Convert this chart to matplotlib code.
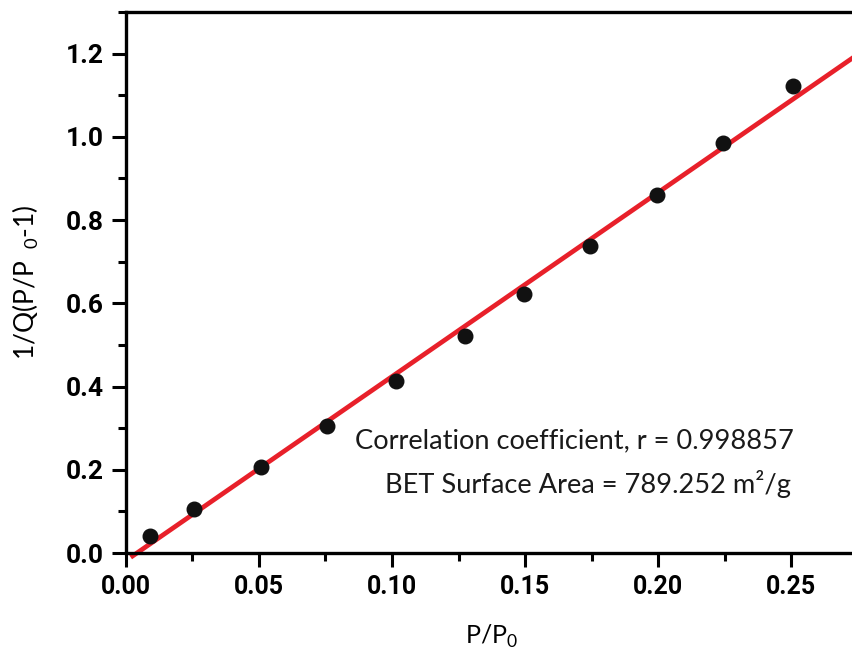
import numpy as np
import matplotlib
matplotlib.use('Agg')
import matplotlib.pyplot as plt
from matplotlib.ticker import MultipleLocator

# data
p_rel = [0.0090, 0.0256, 0.0508, 0.0756, 0.1015, 0.1274, 0.1496, 0.1744, 0.1996, 0.2244, 0.2508]
bet_y = [0.041, 0.106, 0.207, 0.305, 0.414, 0.522, 0.623, 0.738, 0.861, 0.986, 1.123]

# linear fit shown in the figure
fit_slope = 4.42
fit_intercept = -0.018
fit_range = [0.0025, 0.285]

xticks = [0.00, 0.05, 0.10, 0.15, 0.20, 0.25]
yticks = [0.0, 0.2, 0.4, 0.6, 0.8, 1.0, 1.2]

plt.rcParams['font.family'] = ['Lato', 'DejaVu Sans']
plt.rcParams['mathtext.fontset'] = 'custom'
plt.rcParams['mathtext.rm'] = 'Lato'

fig = plt.figure(figsize=(8.53, 6.6), dpi=100)
ax = fig.add_axes([0.1477, 0.162, 0.8576, 0.820])

# fit line
xf = np.array(fit_range)
ax.plot(xf, fit_slope * xf + fit_intercept, color='#e8202a', lw=3.4, clip_on=False, zorder=2)

# data points
ax.scatter(p_rel, bet_y, s=110, color='#111111', zorder=3)

ax.set_xlim(0, 0.275)
ax.set_ylim(0, 1.3)
ax.set_xticks(xticks)
ax.set_yticks(yticks)
ax.xaxis.set_minor_locator(MultipleLocator(0.025))
ax.yaxis.set_minor_locator(MultipleLocator(0.1))
ax.set_xticklabels(['%.2f' % v for v in xticks], fontsize=18, fontweight='bold',
                   family=['Roboto', 'DejaVu Sans'])
ax.set_yticklabels(['%.1f' % v for v in yticks], fontsize=19, fontweight='bold',
                   family=['Roboto', 'DejaVu Sans'])

ax.tick_params(which='major', direction='out', length=10, width=2.2, pad=6)
ax.tick_params(which='minor', direction='out', length=6, width=2.2)

for side in ['left', 'bottom', 'top']:
    ax.spines[side].set_linewidth(2.4)
ax.spines['right'].set_visible(False)

ax.set_xlabel(r'P/P$_0$', fontsize=18, labelpad=17)
ax.set_ylabel(r'1/Q(P/P$_{\ \ 0}$-1)', fontsize=19, labelpad=18)

ax.text(0.0862, 0.2525, 'Correlation coefficient, r = 0.998857', fontsize=19.6,
        va='baseline', color='#1a1a1a')
ax.text(0.0973, 0.1443, 'BET Surface Area = 789.252 m²/g', fontsize=19.6,
        va='baseline', color='#1a1a1a')

fig.savefig('out.png', dpi=100)
